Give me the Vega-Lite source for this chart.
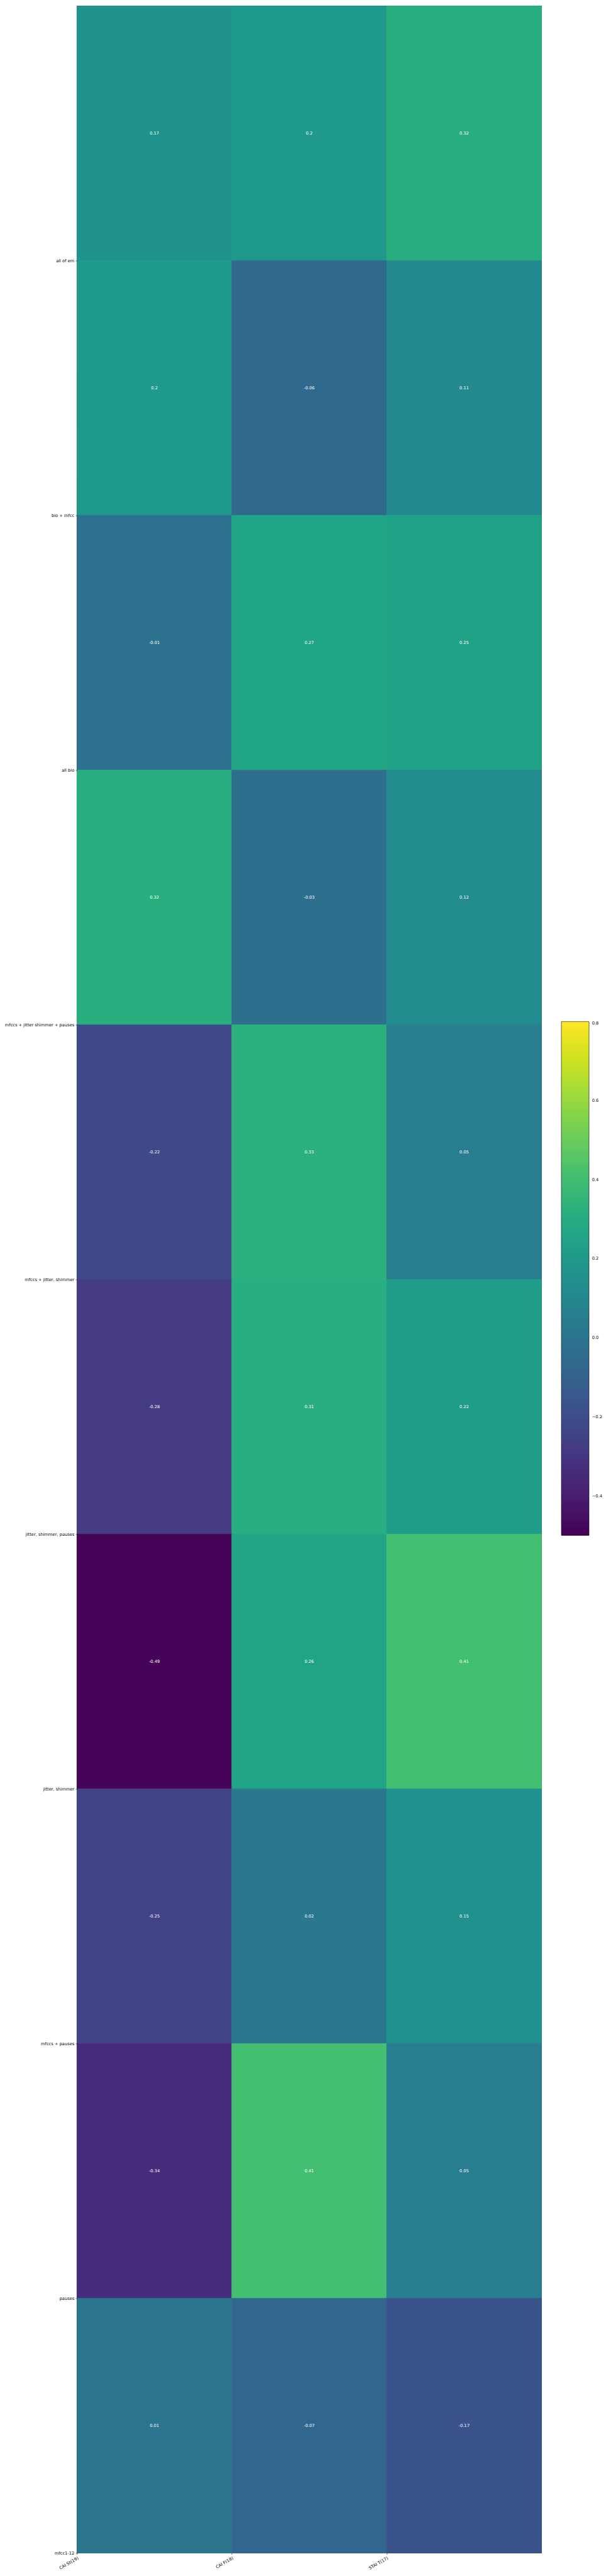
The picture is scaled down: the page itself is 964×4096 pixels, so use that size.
{
  "$schema": "https://vega.github.io/schema/vega-lite/v6.json",
  "width": 739,
  "height": 4050,
  "autosize": {"type": "none"},
  "padding": {"left": 122.4, "top": 9.4, "right": 102.6, "bottom": 36.6},
  "background": "white",
  "config": {
    "font": "DejaVu Sans",
    "view": {"stroke": "black", "strokeWidth": 0.6},
    "axis": {"domain": false, "ticks": true, "tickColor": "black", "tickWidth": 0.6, "tickSize": 2.3, "labelPadding": 2.3, "labelFontSize": 6.7, "labelColor": "black", "labelFont": "DejaVu Sans", "title": null, "grid": false}
  },
  "data": {"values": [
    {"feature": "all of em", "scale": "CAI St(19)", "r": 0.17},
    {"feature": "all of em", "scale": "CAI F(18)", "r": 0.2},
    {"feature": "all of em", "scale": "STAI T(17)", "r": 0.32},
    {"feature": "bio + mfcc", "scale": "CAI St(19)", "r": 0.2},
    {"feature": "bio + mfcc", "scale": "CAI F(18)", "r": -0.06},
    {"feature": "bio + mfcc", "scale": "STAI T(17)", "r": 0.11},
    {"feature": "all bio", "scale": "CAI St(19)", "r": -0.01},
    {"feature": "all bio", "scale": "CAI F(18)", "r": 0.27},
    {"feature": "all bio", "scale": "STAI T(17)", "r": 0.25},
    {"feature": "mfccs + jitter shimmer + pauses", "scale": "CAI St(19)", "r": 0.32},
    {"feature": "mfccs + jitter shimmer + pauses", "scale": "CAI F(18)", "r": -0.03},
    {"feature": "mfccs + jitter shimmer + pauses", "scale": "STAI T(17)", "r": 0.12},
    {"feature": "mfccs + jitter, shimmer", "scale": "CAI St(19)", "r": -0.22},
    {"feature": "mfccs + jitter, shimmer", "scale": "CAI F(18)", "r": 0.33},
    {"feature": "mfccs + jitter, shimmer", "scale": "STAI T(17)", "r": 0.05},
    {"feature": "jitter, shimmer, pauses", "scale": "CAI St(19)", "r": -0.28},
    {"feature": "jitter, shimmer, pauses", "scale": "CAI F(18)", "r": 0.31},
    {"feature": "jitter, shimmer, pauses", "scale": "STAI T(17)", "r": 0.22},
    {"feature": "jitter, shimmer", "scale": "CAI St(19)", "r": -0.49},
    {"feature": "jitter, shimmer", "scale": "CAI F(18)", "r": 0.26},
    {"feature": "jitter, shimmer", "scale": "STAI T(17)", "r": 0.41},
    {"feature": "mfccs + pauses", "scale": "CAI St(19)", "r": -0.25},
    {"feature": "mfccs + pauses", "scale": "CAI F(18)", "r": 0.02},
    {"feature": "mfccs + pauses", "scale": "STAI T(17)", "r": 0.15},
    {"feature": "pauses", "scale": "CAI St(19)", "r": -0.34},
    {"feature": "pauses", "scale": "CAI F(18)", "r": 0.41},
    {"feature": "pauses", "scale": "STAI T(17)", "r": 0.05},
    {"feature": "mfcc1-12", "scale": "CAI St(19)", "r": 0.01},
    {"feature": "mfcc1-12", "scale": "CAI F(18)", "r": -0.07},
    {"feature": "mfcc1-12", "scale": "STAI T(17)", "r": -0.17}
  ]},
  "encoding": {
    "x": {"field": "scale", "type": "nominal", "sort": null,
      "scale": {"paddingInner": 0, "paddingOuter": 0},
      "axis": {"tickOffset": -123.17, "labelAngle": -30, "labelAlign": "right", "labelBaseline": "top"}},
    "y": {"field": "feature", "type": "nominal", "sort": null,
      "scale": {"paddingInner": 0, "paddingOuter": 0},
      "axis": {"tickOffset": 202.5, "labelAlign": "right", "labelBaseline": "middle"}}
  },
  "layer": [
    {"mark": {"type": "rect", "stroke": {"expr": "scale('color', datum.r)"}, "strokeWidth": 0.8},
     "encoding": {
       "color": {"field": "r", "type": "quantitative",
        "scale": {"scheme": "viridis", "domain": [-0.5, 0.8]},
        "legend": {"orient": "none", "legendX": 770.6, "legendY": 1615, "title": null, "direction": "vertical",
          "gradientLength": 817, "gradientThickness": 44, "gradientStrokeColor": "black", "gradientStrokeWidth": 0.6,
          "values": [-0.4, -0.2, 0, 0.2, 0.4, 0.6, 0.8], "labelExpr": "replace(format(datum.value, '.1f'), '-', '\u2212')",
          "labelFontSize": 6.7, "labelColor": "black", "labelOffset": 4.7, "labelOverlap": false, "padding": 0, "offset": 0}}
     }},
    {"mark": {"type": "text", "color": "white", "fontSize": 6.7, "font": "DejaVu Sans", "align": "center", "baseline": "middle"},
     "encoding": {"text": {"field": "r", "type": "nominal"}}}
  ]
}
